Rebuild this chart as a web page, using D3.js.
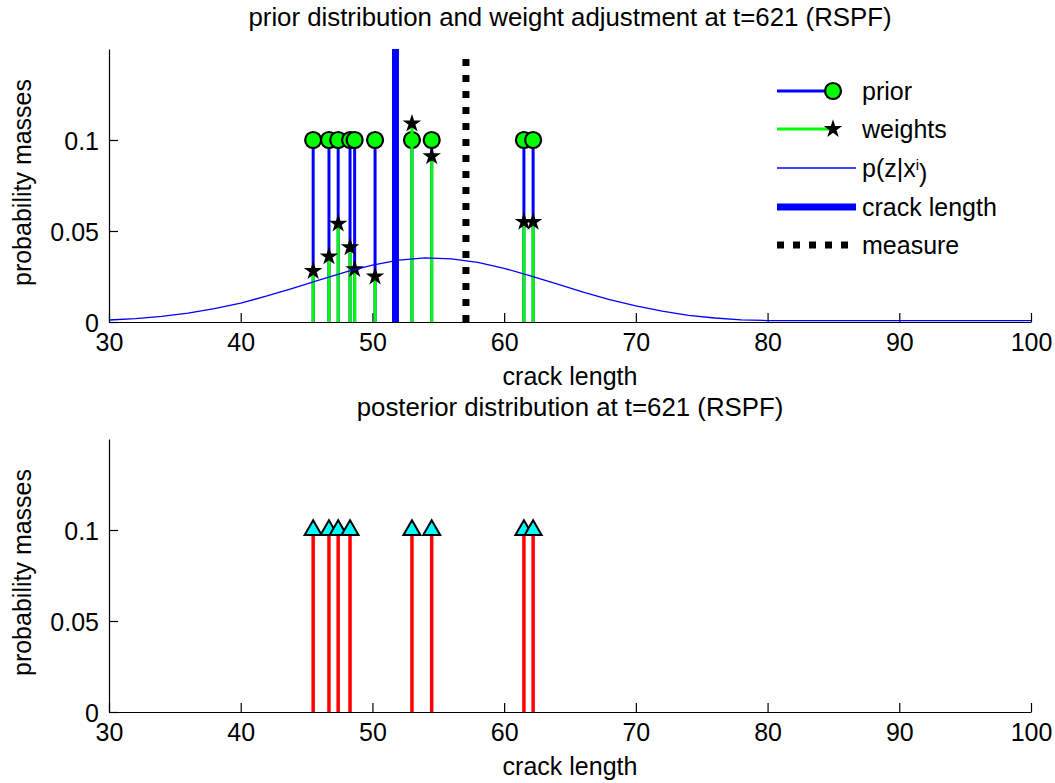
<!DOCTYPE html>
<html>
<head>
<meta charset="utf-8">
<script src="https://cdn.jsdelivr.net/npm/d3@7"></script>
<style>
  html, body { margin: 0; padding: 0; background: #fff; }
  svg { display: block; }
  text { font-family: "Liberation Sans", Arial, sans-serif; fill: #000; }
</style>
</head>
<body>
<svg id="chart" width="1055" height="783"></svg>
<script>
// ---------------- data ----------------
const priorX      = [45.5, 46.7, 47.4, 48.3, 48.65, 50.2, 53.0, 54.5, 61.5, 62.2];
const priorMass   = [0.1, 0.1, 0.1, 0.1, 0.1, 0.1, 0.1, 0.1, 0.1, 0.1];
const weightMass  = [0.028, 0.036, 0.054, 0.041, 0.029, 0.025, 0.109, 0.091, 0.055, 0.055];
const likelihoodX = [30, 32, 34, 36, 38, 40, 42, 44, 46, 48, 50, 52, 54, 56, 58, 60, 62, 64, 66, 68, 70, 72, 74, 76, 78, 80, 84, 88, 92, 96, 100];
const likelihoodY = [0.0011, 0.0019, 0.0031, 0.0049, 0.0073, 0.0104, 0.0143, 0.0186, 0.0232, 0.0276, 0.0313, 0.0340, 0.0352, 0.0347, 0.0328, 0.0295, 0.0254, 0.0209, 0.0164, 0.0123, 0.0088, 0.0060, 0.0036, 0.0022, 0.0012, 0.0008, 0.0008, 0.0008, 0.0008, 0.0008, 0.0008];
const crackLength = 51.75;
const measure     = 57.1;
const posteriorX    = [45.5, 46.7, 47.4, 48.3, 53.0, 54.5, 61.5, 62.2];
const posteriorMass = [0.1, 0.1, 0.1, 0.1, 0.1, 0.1, 0.1, 0.1];
const xTicks = [30, 40, 50, 60, 70, 80, 90, 100];
const yTicks = [0, 0.05, 0.1];
const yTickLabels = ["0", "0.05", "0.1"];
const legendLabels = ["prior", "weights", "p(z|x", "crack length", "measure"];
const titles = ["prior distribution and weight adjustment at t=621 (RSPF)", "posterior distribution at t=621 (RSPF)"];
const xLabel = "crack length";
const yLabel = "probability masses";

// ---------------- layout ----------------
const svg = d3.select("#chart");
const FS = 25;
const left = 109, right = 1031;
const panels = [{top: 49, bottom: 322}, {top: 439, bottom: 712}];
const BLUE = "#0000ff", GREEN = "#00ff00", RED = "#ff0000", CYAN = "#00ffff";

const x = d3.scaleLinear().domain([30, 100]).range([left, right]);
const ys = panels.map(p => d3.scaleLinear().domain([0, 0.15]).range([p.bottom, p.top]));

function drawAxes(g, y, p, title) {
  const xa = g.append("g").attr("transform", `translate(0,${p.bottom})`)
    .call(d3.axisBottom(x).tickValues(xTicks).tickSize(-9).tickSizeOuter(0).tickPadding(11));
  const ya = g.append("g").attr("transform", `translate(${left},0)`)
    .call(d3.axisLeft(y).tickValues(yTicks).tickFormat((d, i) => yTickLabels[i]).tickSize(-9).tickSizeOuter(0).tickPadding(10));
  [xa, ya].forEach(a => {
    a.select(".domain").attr("stroke", "#000").attr("stroke-width", 1.2);
    a.selectAll(".tick line").attr("stroke", "#000").attr("stroke-width", 1.2);
    a.selectAll(".tick text").style("font-size", FS + "px").attr("fill", "#000");
  });
  ya.selectAll(".tick text").attr("dy", "0.36em");
  g.append("text").attr("x", (left + right) / 2).attr("y", p.bottom + 63)
    .attr("text-anchor", "middle").style("font-size", FS + "px").text(xLabel);
  g.append("text").attr("transform", `translate(31,${(p.top + p.bottom) / 2 - 3}) rotate(-90)`)
    .attr("text-anchor", "middle").style("font-size", FS + "px").text(yLabel);
  g.append("text").attr("x", (left + right) / 2).attr("y", p.top - 23)
    .attr("text-anchor", "middle").style("font-size", "25.8px").text(title);
}

const starPath = d3.symbol().type(d3.symbolStar).size(60)();
const triPath = d3.symbol().type(d3.symbolTriangle).size(125)();

// ---------------- top panel ----------------
const g1 = svg.append("g");
const y1 = ys[0];
drawAxes(g1, y1, panels[0], titles[0]);

// prior stems
g1.selectAll(".pstem").data(priorX).join("line")
  .attr("x1", d => x(d)).attr("x2", d => x(d))
  .attr("y1", y1(0)).attr("y2", (d, i) => y1(priorMass[i]))
  .attr("stroke", BLUE).attr("stroke-width", 3);
g1.selectAll(".pmark").data(priorX).join("circle")
  .attr("cx", d => x(d)).attr("cy", (d, i) => y1(priorMass[i])).attr("r", 8)
  .attr("fill", GREEN).attr("stroke", "#000").attr("stroke-width", 2.2);

// weight stems
g1.selectAll(".wstem").data(priorX).join("line")
  .attr("x1", d => x(d)).attr("x2", d => x(d))
  .attr("y1", y1(0)).attr("y2", (d, i) => y1(weightMass[i]))
  .attr("stroke", GREEN).attr("stroke-width", 3);
g1.selectAll(".wmark").data(priorX).join("path")
  .attr("d", starPath)
  .attr("transform", (d, i) => `translate(${x(d)},${y1(weightMass[i])})`)
  .attr("fill", "#000").attr("stroke", "#000").attr("stroke-width", 1.5);

// likelihood curve
const curve = d3.line().x(d => x(d[0])).y(d => y1(d[1]));
g1.append("path").datum(likelihoodX.map((v, i) => [v, likelihoodY[i]]))
  .attr("d", curve).attr("fill", "none").attr("stroke", BLUE).attr("stroke-width", 1.3);

// crack length
g1.append("line").attr("x1", x(crackLength)).attr("x2", x(crackLength))
  .attr("y1", y1(0)).attr("y2", y1(0.15))
  .attr("stroke", BLUE).attr("stroke-width", 7);

// measure
g1.append("line").attr("x1", x(measure)).attr("x2", x(measure))
  .attr("y1", y1(0)).attr("y2", y1(0.15) + 8)
  .attr("stroke", "#000").attr("stroke-width", 7).attr("stroke-dasharray", "7 9");

// legend
const lg = svg.append("g");
const lx0 = 777, lx1 = 856, ltx = 862;
const ly = [91, 129, 168, 207, 245];
lg.append("line").attr("x1", lx0).attr("x2", 827).attr("y1", ly[0]).attr("y2", ly[0]).attr("stroke", BLUE).attr("stroke-width", 3);
lg.append("circle").attr("cx", 833).attr("cy", ly[0]).attr("r", 8).attr("fill", GREEN).attr("stroke", "#000").attr("stroke-width", 2.2);
lg.append("line").attr("x1", lx0).attr("x2", 830).attr("y1", ly[1]).attr("y2", ly[1]).attr("stroke", GREEN).attr("stroke-width", 3);
lg.append("path").attr("d", starPath).attr("transform", `translate(833,${ly[1]})`).attr("fill", "#000").attr("stroke", "#000").attr("stroke-width", 1.5);
lg.append("line").attr("x1", lx0).attr("x2", lx1).attr("y1", ly[2]).attr("y2", ly[2]).attr("stroke", BLUE).attr("stroke-width", 1.3);
lg.append("line").attr("x1", lx0).attr("x2", lx1).attr("y1", ly[3]).attr("y2", ly[3]).attr("stroke", BLUE).attr("stroke-width", 7);
lg.append("line").attr("x1", lx0).attr("x2", 850).attr("y1", ly[4]).attr("y2", ly[4]).attr("stroke", "#000").attr("stroke-width", 7).attr("stroke-dasharray", "7 9");

legendLabels.forEach((t, i) => {
  const tx = lg.append("text").attr("x", ltx).attr("y", ly[i]).attr("dy", "0.36em").style("font-size", FS + "px");
  tx.text(t);
  if (i === 2) {
    tx.append("tspan").attr("dy", "-0.45em").style("font-size", "15px").text("i");
    tx.append("tspan").attr("dy", "0.45em").text(")");
  }
});

// ---------------- bottom panel ----------------
const g2 = svg.append("g");
const y2 = ys[1];
drawAxes(g2, y2, panels[1], titles[1]);
g2.selectAll(".qstem").data(posteriorX).join("line")
  .attr("x1", d => x(d)).attr("x2", d => x(d))
  .attr("y1", y2(0)).attr("y2", (d, i) => y2(posteriorMass[i]))
  .attr("stroke", RED).attr("stroke-width", 3.5);
g2.selectAll(".qmark").data(posteriorX).join("path")
  .attr("d", triPath)
  .attr("transform", (d, i) => `translate(${x(d)},${y2(posteriorMass[i])})`)
  .attr("fill", CYAN).attr("stroke", "#000").attr("stroke-width", 2);
</script>
</body>
</html>
